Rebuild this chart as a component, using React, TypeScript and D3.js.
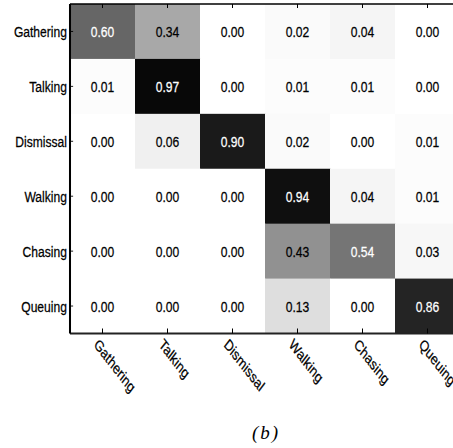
import React from "react";
import * as d3 from "d3";

const categories = ["Gathering", "Talking", "Dismissal", "Walking", "Chasing", "Queuing"];
const rowGathering = [0.6, 0.34, 0.0, 0.02, 0.04, 0.0];
const rowTalking = [0.01, 0.97, 0.0, 0.01, 0.01, 0.0];
const rowDismissal = [0.0, 0.06, 0.9, 0.02, 0.0, 0.01];
const rowWalking = [0.0, 0.0, 0.0, 0.94, 0.04, 0.01];
const rowChasing = [0.0, 0.0, 0.0, 0.43, 0.54, 0.03];
const rowQueuing = [0.0, 0.0, 0.0, 0.13, 0.0, 0.86];
const matrix = [rowGathering, rowTalking, rowDismissal, rowWalking, rowChasing, rowQueuing];
const caption = "(b)";

const W = 453;
const H = 448;
const SX = 0.78; // horizontal compression of the original figure
const left = 70 / SX;
const right = 460 / SX;
const top = 4;
const bottom = 333.5;

export default function App() {
  const x = d3.scaleBand<string>().domain(categories).range([left, right]);
  const y = d3.scaleBand<string>().domain(categories).range([top, bottom]);
  const color = d3.scaleLinear<string>().domain([0, 1]).range(["#ffffff", "#000000"]);
  const font = "'Liberation Sans', Arial, sans-serif";
  const fs = 15.5;
  const cells: JSX.Element[] = [];
  matrix.forEach((row, i) => {
    row.forEach((v, j) => {
      const cx = x(categories[j])!;
      const cy = y(categories[i])!;
      const tc = v > 0.5 ? "#ffffff" : "#000000";
      cells.push(
        <g key={`c${i}-${j}`}>
          <rect x={cx} y={cy} width={x.bandwidth() + 0.5} height={y.bandwidth() + 0.5} fill={color(v)} />
          <text
            x={cx + x.bandwidth() / 2}
            y={cy + y.bandwidth() / 2}
            dy="0.36em"
            textAnchor="middle"
            fontFamily={font}
            fontSize={fs}
            fill={tc}
            stroke={tc}
            strokeWidth={0.25}
          >
            {d3.format(".2f")(v)}
          </text>
        </g>
      );
    });
  });
  return (
    <svg width={W} height={H} style={{ position: "absolute", left: 0, top: 0, background: "#fff" }}>
      <rect x={0} y={0} width={W} height={H} fill="#fff" />
      <g transform={`scale(${SX},1)`}>
        {cells}
        {/* axis box */}
        <line x1={left} x2={right} y1={top} y2={top} stroke="#000" strokeWidth={1.6} />
        <line x1={left} x2={right} y1={bottom} y2={bottom} stroke="#222" strokeWidth={2} />
        <line x1={left} x2={left} y1={top} y2={bottom} stroke="#000" strokeWidth={2.6} />
        <line x1={right} x2={right} y1={top} y2={bottom} stroke="#000" strokeWidth={2.6} />
        {categories.map((c) => {
          const cx = x(c)! + x.bandwidth() / 2;
          return (
            <g key={`xt-${c}`}>
              <line x1={cx} x2={cx} y1={top} y2={top + 4} stroke="#000" strokeWidth={1.3} />
              <line x1={cx} x2={cx} y1={bottom} y2={bottom - 5} stroke="#000" strokeWidth={1.3} />
              <text
                transform={`translate(${cx - 12},${bottom + 12}) rotate(45)`}
                fontFamily={font}
                fontSize={fs}
                fill="#000"
                stroke="#000"
                strokeWidth={0.25}
              >
                {c}
              </text>
            </g>
          );
        })}
        {categories.map((c) => {
          const cy = y(c)! + y.bandwidth() / 2;
          return (
            <g key={`yt-${c}`}>
              <line x1={left} x2={left + 4} y1={cy} y2={cy} stroke="#000" strokeWidth={1} />
              <text
                x={left - 4}
                y={cy}
                dy="0.36em"
                textAnchor="end"
                fontFamily={font}
                fontSize={fs}
                fill="#000"
                stroke="#000"
                strokeWidth={0.25}
              >
                {c}
              </text>
            </g>
          );
        })}
      </g>
      <text
        x={266}
        y={439}
        textAnchor="middle"
        fontFamily="'Liberation Serif', 'Times New Roman', serif"
        fontStyle="italic"
        fontSize={19}
        letterSpacing={2}
        fill="#000"
      >
        {caption}
      </text>
    </svg>
  );
}
